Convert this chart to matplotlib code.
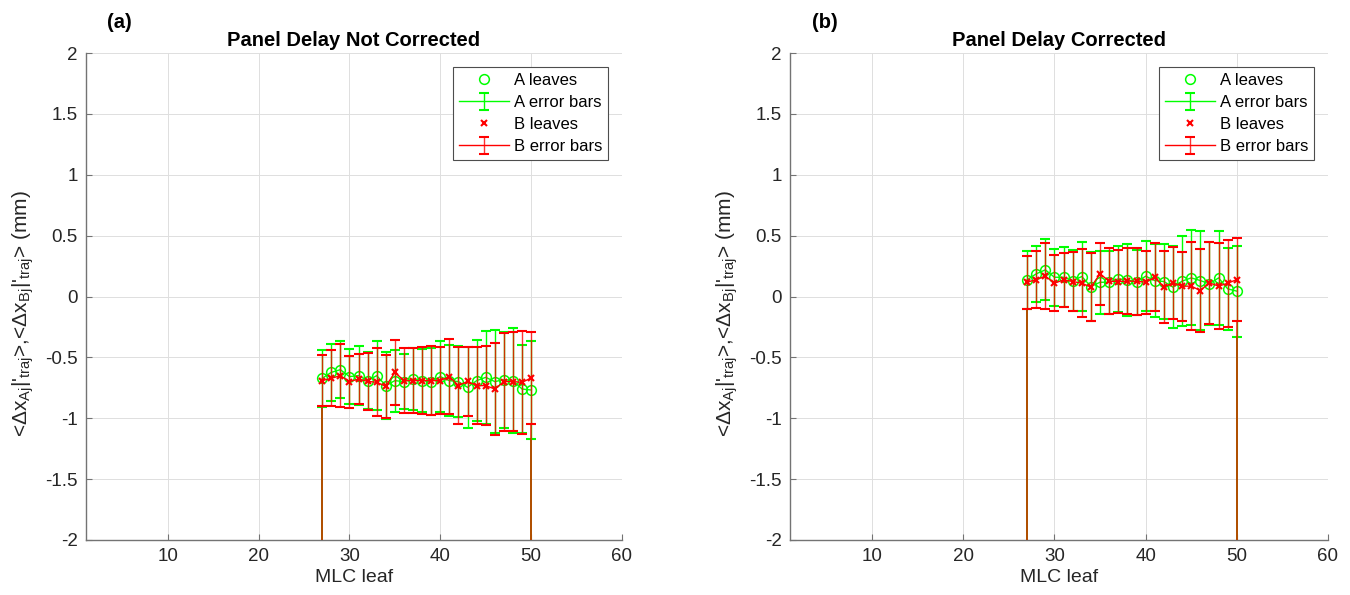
import matplotlib
matplotlib.use("Agg")
import matplotlib.pyplot as plt
import numpy as np

plt.rcParams["font.family"] = ["Liberation Sans", "DejaVu Sans"]
plt.rcParams["mathtext.fontset"] = "custom"
plt.rcParams["mathtext.rm"] = "Liberation Sans"
plt.rcParams["mathtext.it"] = "Liberation Sans"
plt.rcParams["mathtext.default"] = "regular"
plt.rcParams["axes.unicode_minus"] = False

# leaf index (same for both panels)
leaves = np.arange(27, 51)
edge_leaves = [27, 50]

# (a) panel delay not corrected
a_mean_nc = [-0.672, -0.623, -0.601, -0.658, -0.650, -0.691, -0.650, -0.732,
             -0.691, -0.699, -0.678, -0.691, -0.699, -0.658, -0.691, -0.699,
             -0.746, -0.691, -0.664, -0.699, -0.683, -0.691, -0.760, -0.768]
a_err_nc = [0.232, 0.236, 0.236, 0.227, 0.240, 0.235, 0.284, 0.273,
            0.255, 0.228, 0.251, 0.257, 0.273, 0.294, 0.291, 0.294,
            0.335, 0.335, 0.380, 0.423, 0.395, 0.430, 0.365, 0.403]
b_mean_nc = [-0.691, -0.672, -0.650, -0.699, -0.678, -0.697, -0.705, -0.738,
             -0.623, -0.691, -0.691, -0.691, -0.691, -0.691, -0.658, -0.732,
             -0.697, -0.732, -0.732, -0.760, -0.699, -0.699, -0.705, -0.669]
b_err_nc = [0.212, 0.230, 0.260, 0.214, 0.202, 0.236, 0.279, 0.261,
            0.268, 0.266, 0.266, 0.275, 0.281, 0.277, 0.311, 0.317,
            0.283, 0.317, 0.324, 0.376, 0.403, 0.407, 0.421, 0.376]

# (b) panel delay corrected
a_mean_c = [0.137, 0.186, 0.219, 0.158, 0.158, 0.131, 0.164, 0.082,
            0.117, 0.117, 0.145, 0.137, 0.117, 0.167, 0.131, 0.123,
            0.077, 0.126, 0.153, 0.131, 0.104, 0.153, 0.063, 0.044]
a_err_c = [0.238, 0.228, 0.251, 0.235, 0.247, 0.249, 0.283, 0.280,
           0.260, 0.260, 0.269, 0.294, 0.268, 0.290, 0.301, 0.307,
           0.337, 0.372, 0.391, 0.404, 0.342, 0.383, 0.337, 0.373]
b_mean_c = [0.117, 0.139, 0.167, 0.109, 0.137, 0.123, 0.109, 0.077,
            0.186, 0.126, 0.123, 0.126, 0.126, 0.117, 0.158, 0.077,
            0.112, 0.085, 0.085, 0.049, 0.112, 0.085, 0.109, 0.139]
b_err_c = [0.219, 0.232, 0.273, 0.232, 0.221, 0.246, 0.280, 0.280,
           0.255, 0.269, 0.262, 0.273, 0.276, 0.260, 0.280, 0.295,
           0.298, 0.283, 0.359, 0.339, 0.337, 0.352, 0.358, 0.339]

titles = ["Panel Delay Not Corrected", "Panel Delay Corrected"]
tags = ["(a)", "(b)"]
xlim = (1, 60)
ylim = (-2, 2)
ylabel = r"<Δx$_{Aj}$|$'_{traj}$>,<Δx$_{Bj}$|$'_{traj}$> (mm)"

GREEN = (0, 1, 0)
RED = (1, 0, 0)
DARK = "0.15"

fig = plt.figure(figsize=(13.5, 5.95), dpi=100)
ax_a = fig.add_axes([86 / 1350, 55 / 595, 536 / 1350, 487 / 595])
ax_b = fig.add_axes([790 / 1350, 55 / 595, 538 / 1350, 487 / 595])

panels = [
    (ax_a, a_mean_nc, a_err_nc, b_mean_nc, b_err_nc),
    (ax_b, a_mean_c, a_err_c, b_mean_c, b_err_c),
]

for i, (ax, am, ae, bm, be) in enumerate(panels):
    am, ae, bm, be = map(np.asarray, (am, ae, bm, be))

    h1, = ax.plot(leaves, am, "o", ms=7, mfc="none", mec=GREEN, mew=1.1,
                  ls="none", label="A leaves", zorder=3)
    h2 = ax.errorbar(leaves, am, yerr=ae, color=GREEN, lw=1.0, elinewidth=1.0,
                     capsize=3.8, capthick=1.5, label="A error bars", zorder=2)
    h3, = ax.plot(leaves, bm, "x", ms=5, mec=RED, mew=1.5, ls="none",
                  label="B leaves", zorder=5)
    h4 = ax.errorbar(leaves, bm, yerr=be, color=RED, lw=1.0, elinewidth=1.0,
                     capsize=3.8, capthick=1.5, label="B error bars", zorder=4)
    # red bars drawn slightly see-through, so the green underneath shows as brown
    for coll in h4[2]:
        coll.set_alpha(0.8)

    # edge leaves: the bar runs down past the axis
    idx = [list(leaves).index(l) for l in edge_leaves]
    ax.vlines(edge_leaves, ylim[0] - 1, (am - ae)[idx], color=GREEN, lw=1.4,
              zorder=2)
    ax.vlines(edge_leaves, ylim[0] - 1, (bm - be)[idx], color=RED, lw=1.4,
              alpha=0.7, zorder=4)

    ax.set_xlim(*xlim)
    ax.set_ylim(*ylim)
    ax.set_xticks([10, 20, 30, 40, 50, 60])
    ax.set_yticks(np.arange(-2, 2.01, 0.5))
    ax.set_yticklabels(["-2", "-1.5", "-1", "-0.5", "0", "0.5", "1", "1.5", "2"])
    ax.grid(True, color="0.87", lw=0.7)
    ax.set_axisbelow(True)
    for s in ["top", "right"]:
        ax.spines[s].set_visible(False)
    for s in ["left", "bottom"]:
        ax.spines[s].set_color("0.45")
        ax.spines[s].set_linewidth(1.0)
    ax.tick_params(direction="in", length=4, width=0.8, colors="0.45",
                   labelcolor=DARK, labelsize=13.5, pad=6)

    ax.set_xlabel("MLC leaf", fontsize=14, color=DARK, labelpad=3)
    ax.set_ylabel(ylabel, fontsize=15, color=DARK)
    ax.yaxis.set_label_coords(-0.093, 0.465)
    ax.set_title(titles[i], fontsize=14.5, fontweight="bold", pad=5)
    ax.text(0.04, 1.062, tags[i], transform=ax.transAxes, fontsize=14.5,
            fontweight="bold", ha="left", va="center")

    leg = ax.legend([h1, h2, h3, h4],
                    ["A leaves", "A error bars", "B leaves", "B error bars"],
                    loc="upper right", fontsize=12, frameon=True,
                    fancybox=False, framealpha=1, edgecolor="0.3",
                    borderaxespad=0.85, handlelength=3.0, labelspacing=0.42,
                    handletextpad=0.3, borderpad=0.35)
    leg.get_frame().set_linewidth(0.8)

fig.savefig("out.png", dpi=100)
